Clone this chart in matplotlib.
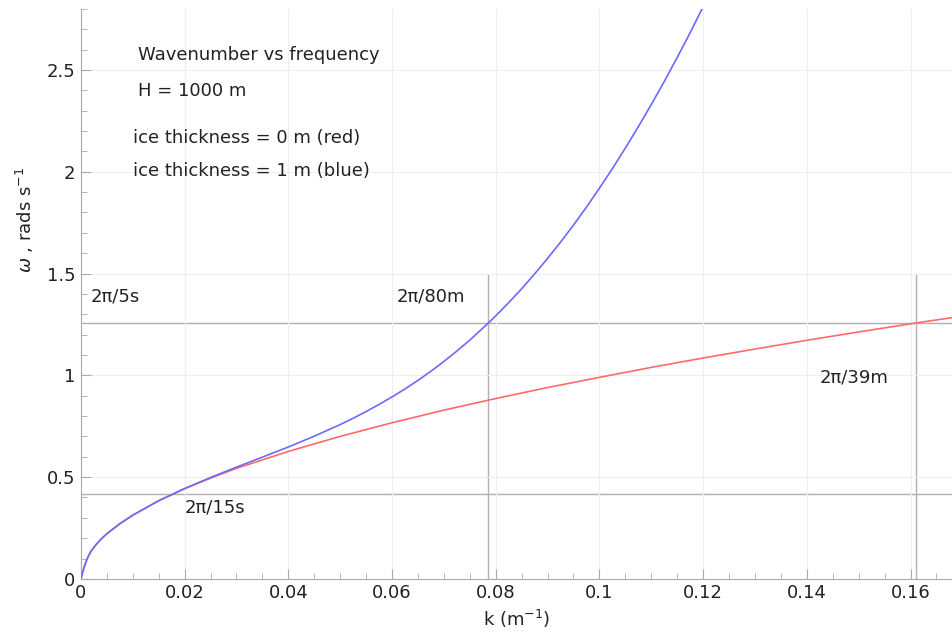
import numpy as np
import matplotlib
matplotlib.use("Agg")
import matplotlib.pyplot as plt
from matplotlib.ticker import MultipleLocator

# Values
# wavenumber k (1/m) and frequency omega (rad/s), open water (red)
k_red = [0, 0.0005, 0.001, 0.0015, 0.002, 0.003, 0.004, 0.005, 0.0075, 0.01, 0.015,
         0.02, 0.025, 0.03, 0.04, 0.05, 0.06, 0.07, 0.08, 0.09, 0.1, 0.11, 0.12,
         0.13, 0.14, 0.15, 0.16, 0.17]
w_red = [0, 0.048, 0.086, 0.115, 0.138, 0.171, 0.198, 0.222, 0.271, 0.313, 0.384,
         0.443, 0.495, 0.543, 0.626, 0.700, 0.767, 0.829, 0.886, 0.940, 0.990, 1.039,
         1.085, 1.129, 1.172, 1.213, 1.253, 1.291]

# 1 m ice cover (blue)
k_blue = [0, 0.0005, 0.001, 0.0015, 0.002, 0.003, 0.004, 0.005, 0.0075, 0.01, 0.015,
          0.02, 0.025, 0.03, 0.035, 0.04, 0.045, 0.05, 0.0525, 0.055, 0.0575, 0.06,
          0.0625, 0.065, 0.0675, 0.07, 0.0725, 0.075, 0.0785, 0.08, 0.0825, 0.085,
          0.0875, 0.09, 0.0925, 0.095, 0.0975, 0.1, 0.1025, 0.105, 0.1075, 0.11,
          0.1125, 0.115, 0.1175, 0.12, 0.1215]
w_blue = [0, 0.048, 0.086, 0.115, 0.138, 0.171, 0.198, 0.222, 0.271, 0.313, 0.384,
          0.444, 0.498, 0.549, 0.598, 0.648, 0.701, 0.758, 0.789, 0.822, 0.857, 0.894,
          0.933, 0.975, 1.020, 1.068, 1.119, 1.173, 1.255, 1.292, 1.357, 1.425,
          1.498, 1.574, 1.654, 1.738, 1.826, 1.919, 2.015, 2.116, 2.221, 2.330,
          2.443, 2.561, 2.683, 2.810, 2.88]

# reference periods / wavelengths
w_lines = [2 * np.pi / 5, 2 * np.pi / 15]
k_lines = [2 * np.pi / 80, 2 * np.pi / 39]

x_ticks = [0, 0.02, 0.04, 0.06, 0.08, 0.1, 0.12, 0.14, 0.16]
x_labels = ['0', '0.02', '0.04', '0.06', '0.08', '0.1', '0.12', '0.14', '0.16']
y_ticks = [0, 0.5, 1, 1.5, 2, 2.5]
y_labels = ['0', '0.5', '1', '1.5', '2', '2.5']

plt.rcParams['font.family'] = ['DejaVu Sans']
plt.rcParams['mathtext.fontset'] = 'dejavusans'
txt = '#222222'
fs = 13

fig = plt.figure(figsize=(9.52, 6.32), dpi=100)
ax = fig.add_axes([0.085, 0.084, 0.915, 0.902])

ax.grid(True, color='#eeeeee', lw=0.8, zorder=0)
for w in w_lines:
    ax.axhline(w, color='#b0b0b0', lw=1, zorder=1)
ax.vlines(k_lines, 0, 1.5, color='#b0b0b0', lw=1, zorder=1)

ax.plot(k_red, w_red, color='#ff6a6a', lw=1.2, zorder=3)
ax.plot(k_blue, w_blue, color='#6a6aff', lw=1.2, zorder=4)

ax.set_xticks(x_ticks)
ax.set_xticklabels(x_labels)
ax.set_yticks(y_ticks)
ax.set_yticklabels(y_labels)
ax.xaxis.set_minor_locator(MultipleLocator(0.005))
ax.yaxis.set_minor_locator(MultipleLocator(0.1))
ax.set_xlim(0, 0.168)
ax.set_ylim(0, 2.8)

ax.tick_params(which='both', direction='in', colors='#aaaaaa', labelcolor=txt,
               labelsize=fs, top=False, right=False)
ax.tick_params(which='major', length=7, pad=4)
ax.tick_params(which='minor', length=4)
for s in ['top', 'right']:
    ax.spines[s].set_visible(False)
for s in ['left', 'bottom']:
    ax.spines[s].set_color('#aaaaaa')

ax.set_xlabel('k (m$^{-1}$)', fontsize=fs, color=txt)
ax.set_ylabel(r'$\omega$ , rads s$^{-1}$', fontsize=fs, color=txt)
ax.xaxis.set_label_coords(0.5, -0.05)
ax.yaxis.set_label_coords(-0.051, 0.63)

def note(x, y, s):
    # place text in pixel coords of the figure (origin top-left)
    fig.text(x / 952, 1 - y / 632, s, fontsize=fs, color=txt, va='center', ha='left')

note(138, 55, 'Wavenumber vs frequency')
note(138, 91, 'H = 1000 m')
note(133, 138, 'ice thickness = 0 m (red)')
note(133, 171, 'ice thickness = 1 m (blue)')
note(91, 296, '2π/5s')
note(397, 296, '2π/80m')
note(185, 508, '2π/15s')
note(820, 377, '2π/39m')

fig.savefig('out.png', dpi=100)
